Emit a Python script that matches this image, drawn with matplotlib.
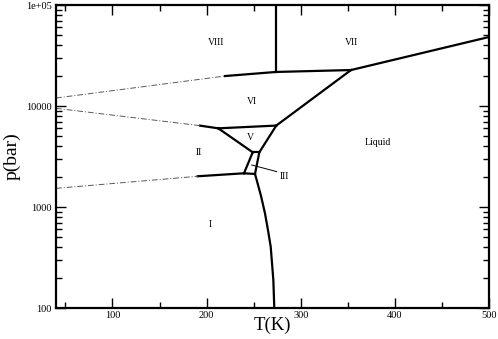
import numpy as np
import matplotlib
matplotlib.use('Agg')
import matplotlib.pyplot as plt

plt.rcParams['font.family'] = ['Liberation Serif', 'DejaVu Serif']

# phase boundaries, T in K and p in bar
viii_vii_T = [273.7, 273.7]
viii_vii_p = [21730, 100000]
vi_viii_T = [219.5, 273.7]
vi_viii_p = [19800, 21730]
vi_vii_T = [273.7, 353.4]
vi_vii_p = [21730, 22700]
vii_liq_T = [353.4, 500]
vii_liq_p = [22700, 48200]
vi_liq_T = [353.4, 274.0]
vi_liq_p = [22700, 6400]
ii_vi_T = [193.0, 212.4]
ii_vi_p = [6390, 6010]
v_vi_T = [212.4, 274.0]
v_vi_p = [6010, 6400]
ii_v_T = [212.4, 249.0]
ii_v_p = [6010, 3480]
iii_v_T = [249.0, 256.0]
iii_v_p = [3480, 3480]
v_liq_T = [256.0, 274.0]
v_liq_p = [3480, 6400]
ii_iii_T = [249.0, 239.7]
ii_iii_p = [3480, 2157]
iii_liq_T = [256.0, 251.4]
iii_liq_p = [3480, 2123]
i_iii_T = [239.7, 251.4]
i_iii_p = [2157, 2123]
i_ii_T = [190.5, 239.7]
i_ii_p = [2015, 2157]
i_liq_T = [251.4, 253.2, 257.8, 262.0, 265.2, 268.1, 270.9, 271.9]
i_liq_p = [2123, 1850, 1285, 867, 591, 404, 189, 100]

# extrapolated (dash-dot) boundaries
viii_vi_ext_T = [40, 219.5]
viii_vi_ext_p = [12000, 19800]
ii_vi_ext_T = [40, 193.0]
ii_vi_ext_p = [9490, 6390]
i_ii_ext_T = [40, 190.5]
i_ii_ext_p = [1530, 2015]

iii_leader_T = [247.9, 274.5]
iii_leader_p = [2606, 2240]

labels = ['VIII', 'VII', 'VI', 'V', 'II', 'I', 'Liquid']
label_T = [210, 354, 248, 246.6, 192, 204.3, 382.4]
label_p = [42100, 42300, 11200, 4900, 3480, 664, 4340]

fig = plt.figure(figsize=(4.98, 3.39), dpi=100)
ax = fig.add_axes([56 / 498, 31 / 339, 433 / 498, 303 / 339])

solid = [(viii_vii_T, viii_vii_p), (vi_viii_T, vi_viii_p), (vi_vii_T, vi_vii_p),
         (vii_liq_T, vii_liq_p), (vi_liq_T, vi_liq_p), (ii_vi_T, ii_vi_p),
         (v_vi_T, v_vi_p), (ii_v_T, ii_v_p), (iii_v_T, iii_v_p),
         (v_liq_T, v_liq_p), (ii_iii_T, ii_iii_p), (iii_liq_T, iii_liq_p),
         (i_iii_T, i_iii_p), (i_ii_T, i_ii_p)]
for T, p in solid:
    ax.plot(T, p, color='k', lw=1.6, solid_joinstyle='miter')
ax.plot(i_liq_T, i_liq_p, color='k', lw=1.6, solid_joinstyle='round')

for T, p in [(viii_vi_ext_T, viii_vi_ext_p), (ii_vi_ext_T, ii_vi_ext_p),
             (i_ii_ext_T, i_ii_ext_p)]:
    ax.plot(T, p, color='0.35', lw=0.7, dashes=(6, 2, 1, 2))

ax.plot(iii_leader_T, iii_leader_p, color='k', lw=0.7)
ax.text(283, 1990, 'III', fontsize=7, ha='center', va='center')

for s, T, p in zip(labels, label_T, label_p):
    ax.text(T, p, s, fontsize=7, ha='center', va='center')

ax.set_yscale('log')
ax.set_xlim(40, 500)
ax.set_ylim(100, 100000)
ax.set_xticks([100, 200, 300, 400, 500])
ax.set_xticks([50, 150, 250, 350, 450], minor=True)
ax.set_yticks([100, 1000, 10000, 100000])
ax.set_yticklabels(['100', '1000', '10000', '1e+05'])
ax.tick_params(which='both', direction='in', top=True, right=True,
               labelsize=7.5, width=1)
ax.tick_params(which='major', length=7)
ax.tick_params(axis='x', which='major', pad=2.5)
ax.tick_params(axis='y', which='major', pad=3)
ax.tick_params(which='minor', length=4)
for sp in ax.spines.values():
    sp.set_linewidth(1.6)

ax.set_xlabel('T(K)', fontsize=13.5)
ax.xaxis.set_label_coords(0.5, -0.03)
ax.xaxis.label.set_va('top')
ax.set_ylabel('p(bar)', fontsize=14, labelpad=4)

fig.savefig('out.png', dpi=100)
